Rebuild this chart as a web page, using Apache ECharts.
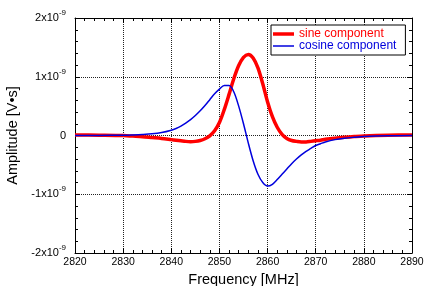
<!DOCTYPE html>
<html>
<head>
<meta charset="utf-8">
<script src="https://cdn.jsdelivr.net/npm/echarts@6/dist/echarts.min.js"></script>
<style>
  html, body { margin: 0; padding: 0; background: #fff; }
  #main { width: 424px; height: 286px; }
</style>
</head>
<body>
<div id="main"></div>
<script>
// frequency in MHz, amplitudes in units of 1e-9 V*s
var freq = [2820, 2825, 2830, 2832, 2834, 2836, 2838, 2840, 2841, 2842, 2843, 2844, 2845, 2846, 2847, 2848, 2849,
  2850, 2851, 2852, 2853, 2854, 2855, 2856, 2857, 2858, 2859, 2860, 2861, 2862, 2863, 2864, 2865, 2866, 2867,
  2868, 2869, 2870, 2871, 2872, 2874, 2876, 2878, 2880, 2885, 2890];
var sine = [0.01, 0.006, 0.0, -0.01, -0.02, -0.035, -0.05, -0.07, -0.08, -0.09, -0.10, -0.105, -0.10, -0.085, -0.055, -0.005, 0.08,
  0.22, 0.44, 0.70, 0.97, 1.19, 1.33, 1.38, 1.32, 1.15, 0.88, 0.57, 0.32, 0.14, 0.02, -0.05, -0.085, -0.10, -0.11,
  -0.11, -0.10, -0.09, -0.08, -0.065, -0.045, -0.03, -0.018, -0.008, 0.005, 0.01];
var cosine = [0.0, 0.002, 0.005, 0.01, 0.017, 0.028, 0.05, 0.09, 0.12, 0.16, 0.21, 0.27, 0.34, 0.42, 0.51, 0.61, 0.71,
  0.79, 0.85, 0.85, 0.74, 0.50, 0.20, -0.13, -0.43, -0.66, -0.80, -0.86, -0.83, -0.75, -0.66, -0.57, -0.48, -0.40, -0.33,
  -0.27, -0.22, -0.17, -0.14, -0.11, -0.07, -0.045, -0.03, -0.018, -0.005, 0.0];
var seriesNames = ['sine component', 'cosine component'];

var font = 'Liberation Sans, Arial, Helvetica, sans-serif';
var chart = echarts.init(document.getElementById('main'));

var sideAxis = {
  type: 'value',
  axisLine: { show: true, onZero: false, lineStyle: { color: '#000', width: 1 } },
  axisTick: { show: true, inside: true, length: 5, lineStyle: { color: '#000' } },
  minorTick: { show: true, splitNumber: 5, length: 3, lineStyle: { color: '#000' } },
  axisLabel: { show: false },
  splitLine: { show: false }
};

var option = {
  animation: false,
  backgroundColor: '#fff',
  grid: { left: 75, right: 12, top: 18, bottom: 33, outerBoundsMode: 'none' },
  legend: {
    orient: 'vertical',
    left: 271, top: 25,
    padding: [3, 9, 3, 2],
    itemWidth: 21, itemHeight: 11, itemGap: 0,
    backgroundColor: '#fff',
    borderColor: '#000', borderWidth: 1, borderRadius: 0,
    textStyle: { fontFamily: font, fontSize: 12, lineHeight: 11 },
    data: [
      { name: seriesNames[0], icon: 'path://M0,0L21,0L21,3.5L0,3.5Z', textStyle: { color: '#ff0000' } },
      { name: seriesNames[1], icon: 'path://M0,0L21,0L21,1.5L0,1.5Z', textStyle: { color: '#0000dd' } }
    ]
  },
  xAxis: [
    {
      type: 'value', min: 2820, max: 2890, interval: 10,
      name: 'Frequency [MHz]', nameLocation: 'middle', nameGap: 16,
      nameTextStyle: { fontFamily: font, fontSize: 14.5, color: '#000' },
      axisLine: { show: true, onZero: false, lineStyle: { color: '#000', width: 1 } },
      axisTick: { show: true, inside: true, length: 5, lineStyle: { color: '#000' } },
      minorTick: { show: true, splitNumber: 5, length: 3, lineStyle: { color: '#000' } },
      axisLabel: {
        fontFamily: font, fontSize: 10.5, color: '#000', margin: 4,
        formatter: function (v) { return String(v); }
      },
      splitLine: { show: true, lineStyle: { color: '#222', type: 'dotted', width: 1 } }
    },
    Object.assign({}, sideAxis, { position: 'top', min: 2820, max: 2890, interval: 10 })
  ],
  yAxis: [
    {
      type: 'value', min: -2, max: 2, interval: 1,
      name: 'Amplitude [V•s]', nameLocation: 'middle', nameGap: 43,
      nameTextStyle: { fontFamily: font, fontSize: 14.5, color: '#000' },
      axisLine: { show: true, onZero: false, lineStyle: { color: '#000', width: 1 } },
      axisTick: { show: true, inside: true, length: 5, lineStyle: { color: '#000' } },
      minorTick: { show: true, splitNumber: 5, length: 3, lineStyle: { color: '#000' } },
      axisLabel: {
        fontFamily: font, color: '#000', margin: 9,
        formatter: function (v) {
          if (v === 0) return '{a|0}';
          return '{a|' + v + 'x10}{b|-9}';
        },
        rich: {
          a: { fontFamily: font, fontSize: 11, lineHeight: 18, color: '#000' },
          b: { fontFamily: font, fontSize: 8, lineHeight: 8, verticalAlign: 'top', color: '#000' }
        }
      },
      splitLine: { show: true, lineStyle: { color: '#222', type: 'dotted', width: 1 } }
    },
    Object.assign({}, sideAxis, { position: 'right', min: -2, max: 2, interval: 1 })
  ],
  series: [
    {
      name: seriesNames[0], type: 'line', smooth: 0.3, symbol: 'none',
      lineStyle: { color: '#ff0000', width: 3.5 }, itemStyle: { color: '#ff0000' },
      data: freq.map(function (f, i) { return [f, sine[i]]; })
    },
    {
      name: seriesNames[1], type: 'line', smooth: 0.3, symbol: 'none',
      lineStyle: { color: '#0000dd', width: 1.5 }, itemStyle: { color: '#0000dd' },
      data: freq.map(function (f, i) { return [f, cosine[i]]; })
    }
  ]
};
chart.setOption(option);
</script>
</body>
</html>
